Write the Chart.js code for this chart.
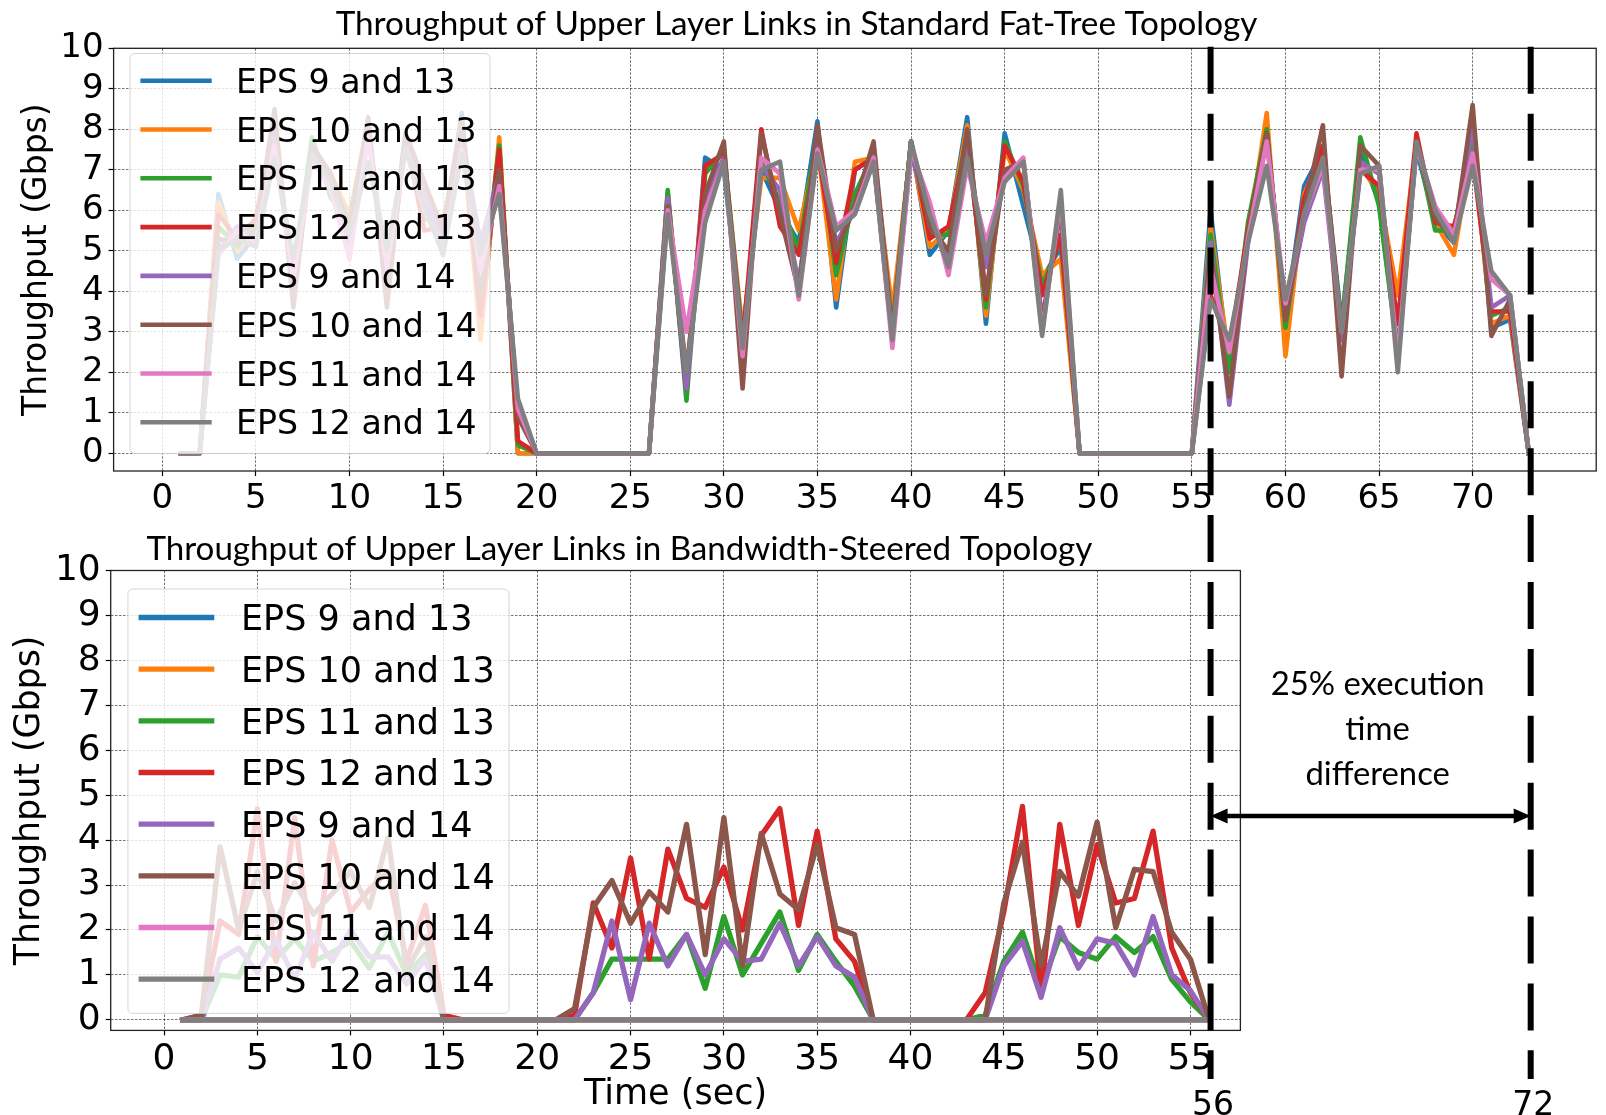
<!DOCTYPE html>
<html>
<head>
<meta charset="utf-8">
<script src="https://cdn.jsdelivr.net/npm/chart.js@4.4.0/dist/chart.umd.min.js"></script>
<style>
  body { margin: 0; background: #fff; }
  #wrap { position: relative; width: 1606px; height: 1115px; overflow: hidden; background: #fff; }
  #wrap canvas { position: absolute; left: 0; }
</style>
</head>
<body>
<div id="wrap">
  <canvas id="topChart" width="1606" height="525" style="top:0px"></canvas>
  <canvas id="bottomChart" width="1606" height="590" style="top:525px"></canvas>
  <canvas id="overlay" width="1606" height="1115" style="top:0px"></canvas>
</div>
<script>
// ---- DATA ----
const timeTop = [1,2,3,4,5,6,7,8,9,10,11,12,13,14,15,16,17,18,19,20,21,22,23,24,25,26,27,28,29,30,31,32,33,34,35,36,37,38,39,40,41,42,43,44,45,46,47,48,49,50,51,52,53,54,55,56,57,58,59,60,61,62,63,64,65,66,67,68,69,70,71,72,73];
const timeBottom = [1,2,3,4,5,6,7,8,9,10,11,12,13,14,15,16,17,18,19,20,21,22,23,24,25,26,27,28,29,30,31,32,33,34,35,36,37,38,39,40,41,42,43,44,45,46,47,48,49,50,51,52,53,54,55,56];

const seriesLabels = ["EPS 9 and 13", "EPS 10 and 13", "EPS 11 and 13", "EPS 12 and 13",
                      "EPS 9 and 14", "EPS 10 and 14", "EPS 11 and 14", "EPS 12 and 14"];
const seriesColors = ["#1f77b4", "#ff7f0e", "#2ca02c", "#d62728", "#9467bd", "#8c564b", "#e377c2", "#7f7f7f"];

// standard fat-tree (top)
const ft_9_13  = [0,0,6.4,4.8,5.4,7.6,4.5,7.5,6.9,5.8,8.0,4.3,7.9,6.2,5.3,8.4,3.0,7.6,0, 0,0,0,0,0,0,0,
  6.4,1.5,7.3,7.0,2.9,7.0,6.0,5.2,8.2,3.6,7.0,7.3,2.9,7.7,4.9,5.5,8.3,3.2,7.9,6.1,4.3,5.1, 0,0,0,0,0,0,0,
  6.0,2.0,5.4,8.0,3.3,6.6,7.5,3.2,7.4,6.2,2.5,7.5,5.7,5.2,7.8,3.1,3.3,0];
const ft_10_13 = [0,0,6.2,5.0,5.6,7.8,4.2,7.6,6.9,5.9,8.1,4.0,7.7,6.3,5.7,8.1,2.8,7.8,0, 0,0,0,0,0,0,0,
  6.4,1.8,7.0,7.4,3.0,6.8,6.8,5.5,7.6,3.8,7.2,7.3,3.5,7.6,5.1,5.5,8.1,3.4,7.5,6.5,4.4,4.8, 0,0,0,0,0,0,0,
  5.6,2.3,5.3,8.4,2.4,6.4,7.4,3.0,7.1,6.4,3.9,7.7,5.7,4.9,7.6,3.2,3.4,0];
const ft_11_13 = [0,0,5.6,5.1,5.7,7.7,4.4,7.8,6.3,5.8,8.0,4.2,7.9,5.8,5.6,8.2,3.6,7.6,0.2, 0,0,0,0,0,0,0,
  6.5,1.3,6.9,7.5,2.8,7.2,6.2,5.0,7.9,4.4,6.4,7.4,3.0,7.7,5.4,5.4,7.9,3.6,7.7,6.6,4.1,5.3, 0,0,0,0,0,0,0,
  5.4,2.0,5.7,8.0,3.1,6.2,7.3,3.1,7.8,6.1,2.5,7.7,5.5,5.5,7.9,3.4,3.6,0];
const ft_12_13 = [0,0,5.9,5.3,5.8,8.2,3.9,7.5,6.8,5.6,8.2,3.9,7.8,5.5,5.6,8.0,3.4,7.5,0.3, 0,0,0,0,0,0,0,
  6.3,1.6,7.1,7.4,2.7,8.0,5.6,4.9,7.5,4.7,7.0,7.3,2.9,7.7,5.3,5.6,7.7,3.8,7.6,6.7,3.9,5.4, 0,0,0,0,0,0,0,
  3.9,2.6,5.5,7.9,3.3,6.3,7.6,3.0,7.0,6.6,3.2,7.9,5.7,5.6,7.3,3.5,3.5,0];
const ft_9_14  = [0,0,5.0,5.6,5.3,8.1,4.0,7.4,6.6,5.2,7.9,4.4,7.6,6.4,5.2,7.8,5.2,6.9,1.0, 0,0,0,0,0,0,0,
  6.3,1.6,6.3,7.3,2.6,7.1,6.5,4.2,7.6,5.2,6.0,7.2,2.8,7.4,5.8,4.8,7.6,4.6,6.9,7.2,3.3,6.0, 0,0,0,0,0,0,0,
  5.2,1.2,5.2,7.8,3.4,5.7,7.0,2.8,7.2,6.9,2.4,7.6,5.9,5.3,8.1,3.6,3.9,0];
const ft_10_14 = [0,0,5.3,5.2,5.5,8.5,3.6,7.6,6.9,5.6,8.3,3.6,7.9,6.7,5.5,8.3,3.9,7.0,0.9, 0,0,0,0,0,0,0,
  6.1,2.0,6.4,7.7,1.6,7.9,5.9,4.0,8.1,5.0,6.1,7.7,3.0,7.7,5.6,5.0,8.0,3.9,7.0,7.2,3.2,6.1, 0,0,0,0,0,0,0,
  5.0,1.4,5.4,7.9,3.3,6.0,8.1,1.9,7.6,7.1,2.3,7.7,5.8,5.3,8.6,2.9,3.8,0];
const ft_11_14 = [0,0,4.9,5.5,5.2,7.6,4.3,7.3,6.5,4.8,7.8,4.6,7.5,6.0,5.0,7.5,4.5,6.6,1.1, 0,0,0,0,0,0,0,
  6.0,3.0,6.0,7.2,2.4,7.3,6.9,3.8,7.5,5.6,6.0,7.3,2.6,7.5,6.2,4.4,7.1,5.2,6.8,7.3,3.0,6.3, 0,0,0,0,0,0,0,
  4.6,2.5,5.3,7.7,3.7,5.9,7.1,3.0,7.0,7.0,2.3,7.6,6.1,5.4,7.4,4.3,3.9,0];
const ft_12_14 = [0,0,5.0,5.3,5.1,7.3,4.8,7.4,6.7,5.4,7.2,5.0,7.5,6.1,4.9,7.4,4.9,6.4,1.35, 0,0,0,0,0,0,0,
  5.9,2.0,5.7,7.2,2.6,7.0,7.2,3.9,7.4,5.5,5.9,7.2,2.8,7.7,5.9,4.6,7.3,4.9,6.7,7.2,2.9,6.5, 0,0,0,0,0,0,0,
  3.8,2.8,5.2,7.1,3.8,5.9,7.3,3.0,6.9,7.1,2.0,7.7,6.0,5.2,7.1,4.5,3.9,0];

// bandwidth-steered (bottom)
const bs_9_13  = [0,0,0,0,0,0,0,0,0,0,0,0,0,0,0,0,0,0,0,0,0,0,0,0,0,0,0,0,0,0,0,0,0,0,0,0,0,0,0,0,0,0,0,0,0,0,0,0,0,0,0,0,0,0,0,0];
const bs_10_13 = [0,0,0,0,0,0,0,0,0,0,0,0,0,0,0,0,0,0,0,0,0,0,0,0,0,0,0,0,0,0,0,0,0,0,0,0,0,0,0,0,0,0,0,0,0,0,0,0,0,0,0,0,0,0,0,0];
const bs_11_13 = [0,0,1.0,0.95,1.85,1.35,1.8,1.3,1.5,1.75,1.15,1.95,1.0,1.45, 0,0,0,0,0,0,0,0,
  0.6,1.35,1.35,1.35,1.35,1.9,0.7,2.3,1.0,1.7,2.4,1.1,1.9,1.3,0.75, 0,0,0,0,0,0,
  0.1,1.3,1.95,0.7,1.85,1.5,1.35,1.85,1.5,1.85,0.9,0.4,0];
const bs_12_13 = [0,0.1,2.2,1.9,4.7,1.3,4.5,1.2,4.0,2.4,2.9,3.3,1.3,2.55,0.1, 0,0,0,0,0,0,
  0.1,2.6,1.6,3.6,1.35,3.8,2.7,2.5,3.4,2.0,4.1,4.7,2.1,4.2,1.8,1.3, 0,0,0,0,0,0,
  0.6,2.4,4.75,0.6,4.35,2.1,3.9,2.6,2.7,4.2,1.6,0.6,0];
const bs_9_14  = [0,0,1.35,1.6,1.05,1.8,0.9,1.95,1.3,2.0,1.4,1.4,0.8,1.35, 0,0,0,0,0,0,0,0,
  0.6,2.2,0.45,2.15,1.2,1.9,1.0,1.8,1.3,1.35,2.15,1.2,1.85,1.2,0.95, 0,0,0,0,0,0,0,
  1.2,1.75,0.5,2.05,1.15,1.8,1.7,1.0,2.3,1.0,0.65,0];
const bs_10_14 = [0,0.1,3.85,2.0,3.3,2.2,3.05,2.35,2.8,3.3,2.5,4.05,1.1,1.85, 0,0,0,0,0,0,0,
  0.25,2.5,3.1,2.15,2.85,2.4,4.35,1.45,4.5,1.2,4.15,2.8,2.45,3.9,2.05,1.9, 0,0,0,0,0,0,0,
  2.6,3.95,1.2,3.3,2.75,4.4,2.05,3.35,3.3,1.95,1.35,0];
const bs_11_14 = [0,0,0,0,0,0,0,0,0,0,0,0,0,0,0,0,0,0,0,0,0,0,0,0,0,0,0,0,0,0,0,0,0,0,0,0,0,0,0,0,0,0,0,0,0,0,0,0,0,0,0,0,0,0,0,0];
const bs_12_14 = [0,0,0,0,0,0,0,0,0,0,0,0,0,0,0,0,0,0,0,0,0,0,0,0,0,0,0,0,0,0,0,0,0,0,0,0,0,0,0,0,0,0,0,0,0,0,0,0,0,0,0,0,0,0,0,0];

const xTicksTop = [0,5,10,15,20,25,30,35,40,45,50,55,60,65,70];
const xTicksBottom = [0,5,10,15,20,25,30,35,40,45,50,55];
const yTicks = [0,1,2,3,4,5,6,7,8,9,10];

const titleTop = "Throughput of Upper Layer Links in Standard Fat-Tree Topology";
const titleBottom = "Throughput of Upper Layer Links in Bandwidth-Steered Topology";
const markerTimes = [56, 73.1];
const markerLabels = ["56", "72"];
const noteLines = ["25% execution", "time", "difference"];

// ---- PLUGIN: frame + legend box drawn over the lines ----
const boxLegend = {
  id: "boxLegend",
  afterDatasetsDraw(chart, args, o) {
    const ctx = chart.ctx, a = chart.chartArea;
    ctx.save();
    ctx.strokeStyle = "#222";
    ctx.lineWidth = 1.3;
    ctx.strokeRect(a.left, a.top, a.right - a.left, a.bottom - a.top);

    const [l, t, r, b] = o.box, rad = 5;
    ctx.beginPath();
    ctx.moveTo(l + rad, t);
    ctx.arcTo(r, t, r, b, rad);
    ctx.arcTo(r, b, l, b, rad);
    ctx.arcTo(l, b, l, t, rad);
    ctx.arcTo(l, t, r, t, rad);
    ctx.closePath();
    ctx.fillStyle = "rgba(255,255,255,0.8)";
    ctx.fill();
    ctx.strokeStyle = "rgba(204,204,204,0.8)";
    ctx.lineWidth = 1;
    ctx.stroke();

    ctx.font = o.fontSize + "px 'DejaVu Sans'";
    ctx.textAlign = "left";
    ctx.textBaseline = "alphabetic";
    chart.data.datasets.forEach((ds, i) => {
      const y = o.firstRow + i * o.rowGap;
      ctx.strokeStyle = ds.borderColor;
      ctx.lineWidth = ds.borderWidth;
      ctx.lineCap = "butt";
      ctx.beginPath();
      ctx.moveTo(o.lineX[0], y);
      ctx.lineTo(o.lineX[1], y);
      ctx.stroke();
      ctx.fillStyle = "#000";
      ctx.fillText(ds.label, o.textX, y + o.fontSize * 0.3645);
    });
    ctx.restore();
  }
};

function buildChart(id, times, series, opt) {
  const datasets = series.map((vals, i) => ({
    label: seriesLabels[i],
    data: vals.map((v, j) => ({ x: times[j], y: v })),
    borderColor: seriesColors[i],
    backgroundColor: seriesColors[i],
    borderWidth: opt.lineWidth,
    pointRadius: 0,
    tension: 0,
    borderCapStyle: "square",
    borderJoinStyle: "round",
    order: series.length - i
  }));
  const gridCol = "rgba(0,0,0,0.55)";
  return new Chart(document.getElementById(id), {
    type: "line",
    data: { datasets: datasets },
    plugins: [boxLegend],
    options: {
      responsive: false,
      animation: false,
      devicePixelRatio: 1,
      layout: { padding: { top: opt.padTop, right: opt.padRight, left: 0, bottom: 0 } },
      plugins: {
        legend: { display: false },
        tooltip: { enabled: false },
        boxLegend: opt.legend
      },
      scales: {
        x: {
          type: "linear",
          min: opt.xMin,
          max: opt.xMax,
          afterBuildTicks: s => { s.ticks = opt.xTicks.map(v => ({ value: v })); },
          afterFit: s => { s.height = opt.xHeight; },
          grid: { color: gridCol, lineWidth: 1, drawTicks: true, tickLength: 5, tickColor: "#000", tickWidth: 1.2 },
          border: { display: false, dash: [2.5, 1.5] },
          ticks: { color: "#000", font: { family: "DejaVu Sans", size: opt.tickSize }, padding: 3, maxRotation: 0, autoSkip: false },
          title: opt.xTitle
        },
        y: {
          min: opt.yMin,
          max: 10,
          afterBuildTicks: s => { s.ticks = yTicks.map(v => ({ value: v })); },
          afterFit: s => { s.width = opt.yWidth; },
          grid: { color: gridCol, lineWidth: 1, drawTicks: true, tickLength: 5, tickColor: "#000", tickWidth: 1.2 },
          border: { display: false, dash: [2.5, 1.5] },
          ticks: { color: "#000", font: { family: "DejaVu Sans", size: opt.tickSize }, padding: 5, autoSkip: false },
          title: {
            display: true,
            text: "Throughput (Gbps)",
            color: "#000",
            font: { family: "DejaVu Sans", size: opt.yTitleSize, lineHeight: 1 },
            padding: { top: opt.yTitlePad, bottom: 0 }
          }
        }
      }
    }
  });
}

const topChart = buildChart("topChart", timeTop,
  [ft_9_13, ft_10_13, ft_11_13, ft_12_13, ft_9_14, ft_10_14, ft_11_14, ft_12_14], {
    padTop: 48.3, padRight: 9.8, yWidth: 113.6, xHeight: 54,
    xMin: -2.6, xMax: 76.6, yMin: -0.437, xTicks: xTicksTop,
    tickSize: 34, yTitleSize: 33, yTitlePad: 20.5, lineWidth: 4.6,
    xTitle: { display: false },
    legend: { box: [130, 53.5, 490, 453.5], lineX: [140.4, 211.7], textX: 236, firstRow: 80.7, rowGap: 48.8, fontSize: 33.2 }
  });

const bottomChart = buildChart("bottomChart", timeBottom,
  [bs_9_13, bs_10_13, bs_11_13, bs_12_13, bs_9_14, bs_10_14, bs_11_14, bs_12_14], {
    padTop: 45.5, padRight: 365.6, yWidth: 110.7, xHeight: 84.6,
    xMin: -2.86, xMax: 57.68, yMin: -0.236, xTicks: xTicksBottom,
    tickSize: 36, yTitleSize: 34.8, yTitlePad: 12.5, lineWidth: 5.3,
    xTitle: {
      display: true, text: "Time (sec)", color: "#000",
      font: { family: "DejaVu Sans", size: 35, lineHeight: 1 },
      padding: { top: 0, bottom: 3 }
    },
    legend: { box: [127.9, 64, 509, 488.4], lineX: [138.6, 214.3], textX: 241, firstRow: 92.5, rowGap: 51.67, fontSize: 35 }
  });

// ---- OVERLAY: titles, time markers, arrow, note ----
const ov = document.getElementById("overlay").getContext("2d");

function fitSize(text, width, family) {
  ov.font = "100px " + family;
  return 100 * width / ov.measureText(text).width;
}

ov.fillStyle = "#000";
ov.textBaseline = "alphabetic";
ov.textAlign = "left";
let s = fitSize(titleTop, 922, "Lato");
ov.font = s + "px Lato";
ov.fillText(titleTop, 335.7, 35);
s = fitSize(titleBottom, 946, "Lato");
ov.font = s + "px Lato";
ov.fillText(titleBottom, 146.4, 559.8);

const mx = markerTimes.map(t => topChart.scales.x.getPixelForValue(t));
ov.save();
ov.strokeStyle = "#000";
ov.lineWidth = 6;
ov.lineCap = "butt";
ov.setLineDash([47, 19.9]);
mx.forEach(x => {
  ov.beginPath();
  ov.moveTo(x, 46.8);
  ov.lineTo(x, 1079);
  ov.stroke();
});
ov.restore();

// double arrow between the two markers
const ay = 816, head = 17, hw = 7.5;
ov.save();
ov.strokeStyle = "#000";
ov.fillStyle = "#000";
ov.lineWidth = 4.5;
ov.beginPath();
ov.moveTo(mx[0] + head - 1, ay);
ov.lineTo(mx[1] - head + 1, ay);
ov.stroke();
ov.beginPath();
ov.moveTo(mx[0], ay); ov.lineTo(mx[0] + head, ay - hw); ov.lineTo(mx[0] + head, ay + hw); ov.closePath();
ov.fill();
ov.beginPath();
ov.moveTo(mx[1], ay); ov.lineTo(mx[1] - head, ay - hw); ov.lineTo(mx[1] - head, ay + hw); ov.closePath();
ov.fill();
ov.restore();

ov.textAlign = "center";
s = fitSize(noteLines[0], 214, "Lato");
ov.font = s + "px Lato";
const noteX = (mx[0] + mx[1]) / 2 + 7;
[695.3, 740.1, 784.5].forEach((y, i) => ov.fillText(noteLines[i], noteX, y));

ov.font = "33px 'DejaVu Sans'";
markerLabels.forEach((t, i) => ov.fillText(t, mx[i] + 2.5, 1115));
</script>
</body>
</html>
